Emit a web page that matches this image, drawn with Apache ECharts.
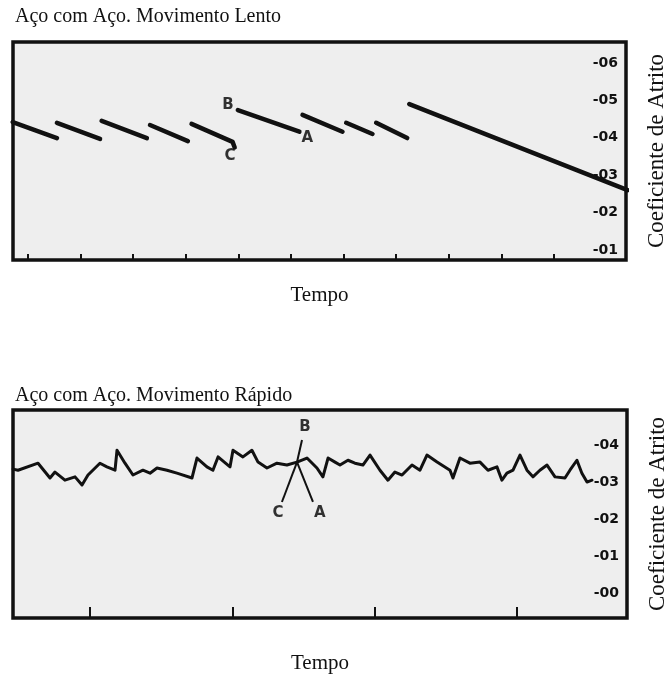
<!DOCTYPE html>
<html>
<head>
<meta charset="utf-8">
<script src="https://cdn.jsdelivr.net/npm/echarts@6/dist/echarts.min.js"></script>
<style>
  html, body { margin: 0; background: #fff; }
  #chart { width: 669px; height: 678px; }
</style>
</head>
<body>
<div id="chart"></div>
<script>
var chartDom = document.getElementById('chart');
var myChart = echarts.init(chartDom);

// time in tick units, friction coefficient on y
var slowTicks = [0, 1, 2, 3, 4, 5, 6, 7, 8, 9, 10];
var slowLevels = [0.01, 0.02, 0.03, 0.04, 0.05, 0.06];
var slowSegments = [
  [[-0.29, 0.0442], [0.55, 0.0399]],
  [[0.55, 0.0440], [1.37, 0.0397]],
  [[1.40, 0.0445], [2.26, 0.0399]],
  [[2.32, 0.0434], [3.04, 0.0391]],
  [[3.11, 0.0437], [3.89, 0.0389], [3.93, 0.0374]],
  [[3.99, 0.0474], [5.16, 0.0416]],
  [[5.22, 0.0461], [5.98, 0.0416]],
  [[6.05, 0.0440], [6.55, 0.0410]],
  [[6.62, 0.0440], [7.21, 0.0399]],
  [[7.25, 0.0490], [11.4, 0.0260]]
];
var slowNotes = [
  { name: 'B', value: [3.80, 0.0486] },
  { name: 'A', value: [5.31, 0.0398] },
  { name: 'C', value: [3.84, 0.0350] }
];

var fastTicks = [0, 1, 2, 3];
var fastLevels = [0.00, 0.01, 0.02, 0.03, 0.04];
var fastTrace = [
  [-0.54, 0.0335], [-0.506, 0.0332], [-0.365, 0.0351], [-0.281, 0.0311], [-0.246, 0.0327],
  [-0.176, 0.0305], [-0.105, 0.0314], [-0.056, 0.0292], [-0.014, 0.0319], [0.070, 0.0351],
  [0.119, 0.0341], [0.176, 0.0332], [0.190, 0.0386], [0.246, 0.0351], [0.302, 0.0319],
  [0.372, 0.0332], [0.422, 0.0324], [0.471, 0.0338], [0.541, 0.0332], [0.611, 0.0324],
  [0.717, 0.0311], [0.752, 0.0365], [0.822, 0.0341], [0.864, 0.0332], [0.900, 0.0368],
  [0.984, 0.0341], [1.005, 0.0386], [1.075, 0.0368], [1.138, 0.0386], [1.181, 0.0354],
  [1.244, 0.0338], [1.314, 0.0351], [1.384, 0.0346], [1.455, 0.0354], [1.525, 0.0365],
  [1.595, 0.0338], [1.637, 0.0314], [1.673, 0.0365], [1.722, 0.0354], [1.757, 0.0346],
  [1.813, 0.0359], [1.862, 0.0351], [1.918, 0.0346], [1.968, 0.0373], [2.038, 0.0332],
  [2.094, 0.0305], [2.143, 0.0327], [2.193, 0.0319], [2.263, 0.0346], [2.319, 0.0332],
  [2.368, 0.0373], [2.439, 0.0354], [2.530, 0.0332], [2.551, 0.0311], [2.600, 0.0365],
  [2.670, 0.0351], [2.741, 0.0354], [2.797, 0.0332], [2.860, 0.0341], [2.895, 0.0305],
  [2.930, 0.0324], [2.973, 0.0332], [3.022, 0.0373], [3.071, 0.0332], [3.113, 0.0314],
  [3.162, 0.0332], [3.212, 0.0346], [3.268, 0.0314], [3.338, 0.0311], [3.373, 0.0332],
  [3.422, 0.0359], [3.457, 0.0324], [3.493, 0.0300], [3.528, 0.0305]
];
var fastPointers = [
  [[1.490, 0.0414], [1.455, 0.0354]],
  [[1.455, 0.0354], [1.349, 0.0246]],
  [[1.455, 0.0354], [1.567, 0.0246]]
];
var fastNotes = [
  { name: 'B', value: [1.511, 0.0448] },
  { name: 'C', value: [1.321, 0.0217] },
  { name: 'A', value: [1.616, 0.0217] }
];

var serif = '"Liberation Serif", "DejaVu Serif", serif';
var ink = '#111111';

function levelLabel(v) {
  var n = Math.round(v * 100);
  return '-0' + n;
}

function noteSeries(idx, data) {
  return {
    type: 'scatter',
    xAxisIndex: idx,
    yAxisIndex: idx,
    symbolSize: 0,
    silent: true,
    data: data,
    label: {
      show: true,
      position: 'inside',
      formatter: '{b}',
      color: '#000',
      fontFamily: '"DejaVu Sans", sans-serif',
      fontWeight: 'bold',
      fontSize: 15
    }
  };
}

var series = [];
slowSegments.forEach(function (seg) {
  series.push({
    type: 'line',
    xAxisIndex: 0,
    yAxisIndex: 0,
    data: seg,
    symbol: 'none',
    silent: true,
    lineStyle: { color: ink, width: 4.5, cap: 'round', join: 'round' }
  });
});
series.push(noteSeries(0, slowNotes));

series.push({
  type: 'line',
  xAxisIndex: 1,
  yAxisIndex: 1,
  data: fastTrace,
  symbol: 'none',
  silent: true,
  lineStyle: { color: ink, width: 3, cap: 'round', join: 'round' }
});
fastPointers.forEach(function (seg) {
  series.push({
    type: 'line',
    xAxisIndex: 1,
    yAxisIndex: 1,
    data: seg,
    symbol: 'none',
    silent: true,
    lineStyle: { color: ink, width: 2 }
  });
});
series.push(noteSeries(1, fastNotes));

var option = {
  animation: false,
  backgroundColor: '#fff',
  title: [
    {
      text: 'Aço com Aço. Movimento Lento',
      left: 10, top: 2,
      textStyle: { fontFamily: serif, fontWeight: 'normal', fontSize: 20, color: ink }
    },
    {
      text: 'Aço com Aço. Movimento Rápido',
      left: 10, top: 381,
      textStyle: { fontFamily: serif, fontWeight: 'normal', fontSize: 20, color: ink }
    }
  ],
  grid: [
    { left: 13, top: 42, width: 613, height: 218, show: true, outerBoundsMode: 'none',
      backgroundColor: '#eeeeee', borderColor: ink, borderWidth: 3.5 },
    { left: 13, top: 410, width: 614, height: 208, show: true, outerBoundsMode: 'none',
      backgroundColor: '#eeeeee', borderColor: ink, borderWidth: 3.5 }
  ],
  xAxis: [
    {
      gridIndex: 0, type: 'value', min: -0.285, max: 11.37,
      name: 'Tempo', nameLocation: 'middle', nameGap: 25,
      nameTextStyle: { fontFamily: serif, fontSize: 21, color: ink },
      axisLine: { show: false, onZero: false },
      splitLine: { show: false },
      axisLabel: { show: false },
      axisTick: { show: true, inside: true, length: 6, customValues: slowTicks,
        lineStyle: { color: ink, width: 2 } }
    },
    {
      gridIndex: 1, type: 'value', min: -0.541, max: 3.774,
      name: 'Tempo', nameLocation: 'middle', nameGap: 35,
      nameTextStyle: { fontFamily: serif, fontSize: 21, color: ink },
      axisLine: { show: false, onZero: false },
      splitLine: { show: false },
      axisLabel: { show: false },
      axisTick: { show: true, inside: true, length: 11, customValues: fastTicks,
        lineStyle: { color: ink, width: 2 } }
    }
  ],
  yAxis: [
    {
      gridIndex: 0, type: 'value', position: 'right', min: 0.0073, max: 0.0656,
      name: 'Coeficiente de Atrito', nameLocation: 'middle', nameGap: 19,
      nameTextStyle: { fontFamily: serif, fontSize: 23, color: ink },
      axisLine: { show: false, onZero: false },
      splitLine: { show: false },
      axisTick: { show: false },
      axisLabel: { inside: true, margin: 8, customValues: slowLevels, formatter: levelLabel,
        fontFamily: '"DejaVu Sans", sans-serif', fontWeight: 'bold', fontSize: 14, color: ink }
    },
    {
      gridIndex: 1, type: 'value', position: 'right', min: -0.0068, max: 0.0495,
      name: 'Coeficiente de Atrito', nameLocation: 'middle', nameGap: 19,
      nameTextStyle: { fontFamily: serif, fontSize: 23, color: ink },
      axisLine: { show: false, onZero: false },
      splitLine: { show: false },
      axisTick: { show: false },
      axisLabel: { inside: true, margin: 8, customValues: fastLevels, formatter: levelLabel,
        fontFamily: '"DejaVu Sans", sans-serif', fontWeight: 'bold', fontSize: 14, color: ink }
    }
  ],
  series: series
};

myChart.setOption(option);
</script>
</body>
</html>
